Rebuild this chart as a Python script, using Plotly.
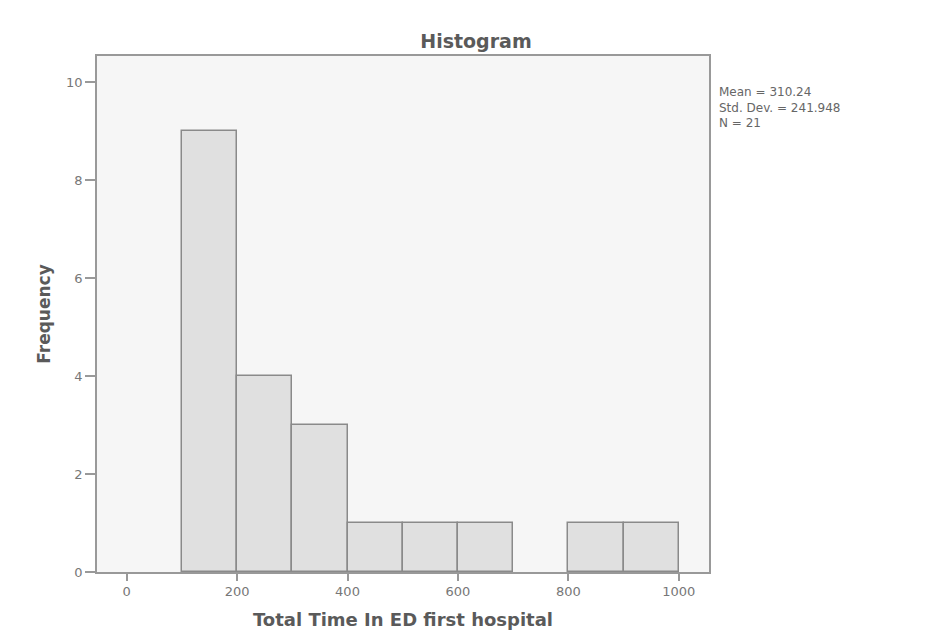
import plotly.graph_objects as go

bin_starts = [100, 200, 300, 400, 500, 600, 700, 800, 900]
counts = [9, 4, 3, 1, 1, 1, 0, 1, 1]
bin_width = 100
x_ticks = [0, 200, 400, 600, 800, 1000]
y_ticks = [0, 2, 4, 6, 8, 10]
stats_lines = ["Mean = 310.24", "Std. Dev. = 241.948", "N = 21"]

# skip empty bins so no zero-height outline is drawn
centers = [s + bin_width / 2 for s, c in zip(bin_starts, counts) if c > 0]
heights = [c for c in counts if c > 0]

fig = go.Figure()
fig.add_trace(go.Bar(
    x=centers, y=heights, width=[bin_width] * len(heights),
    marker=dict(color="#e0e0e0", line=dict(color="#8a8a8a", width=1.5)),
    hoverinfo="x+y",
))

# page body has an 8px margin; figure origin sits at (8, 8)
plot_h = 516

fig.update_layout(
    width=930, height=639,
    margin=dict(l=89, r=229, t=48, b=75, autoexpand=False),
    paper_bgcolor="white",
    plot_bgcolor="#f6f6f6",
    showlegend=False,
    bargap=0,
    font=dict(family="DejaVu Sans", color="#666666", size=12),
    title=dict(text="<b>Histogram</b>", x=468 / 930, xanchor="center",
               y=1 - 33 / 639, yanchor="middle",
               font=dict(size=19, color="#5a5a5a", family="DejaVu Sans")),
    xaxis=dict(
        range=[-53.8, 1054.9], tickvals=x_ticks, ticktext=[str(v) for v in x_ticks],
        automargin=False,
        showgrid=False, zeroline=False, showline=True, linecolor="#999999", linewidth=1.5,
        mirror=True, ticks="outside", ticklen=7, tickcolor="#999999", tickwidth=1.5,
        tickfont=dict(size=13, color="#777777"),
        title=dict(text="<b>Total Time In ED first hospital</b>", standoff=15,
                   font=dict(size=18, color="#5a5a5a", family="DejaVu Sans")),
    ),
    yaxis=dict(
        range=[0, 10.54], tickvals=y_ticks, ticktext=[str(v) for v in y_ticks],
        automargin=False,
        showgrid=False, zeroline=False, showline=True, linecolor="#999999", linewidth=1.5,
        mirror=True, ticks="outside", ticklen=10, tickcolor="#999999", tickwidth=1.5,
        tickfont=dict(size=13, color="#777777"),
        title=dict(text="<b>Frequency</b>", standoff=11,
                   font=dict(size=17, color="#5a5a5a", family="DejaVu Sans")),
    ),
    annotations=[dict(
        text="<br>".join(stats_lines), xref="paper", yref="paper",
        x=1.0, y=1 - 27 / plot_h,
        xanchor="left", yanchor="top", xshift=8, showarrow=False, align="left",
        font=dict(family="DejaVu Sans", size=12, color="#666666"),
    )],
)

fig.write_html("out.html")
